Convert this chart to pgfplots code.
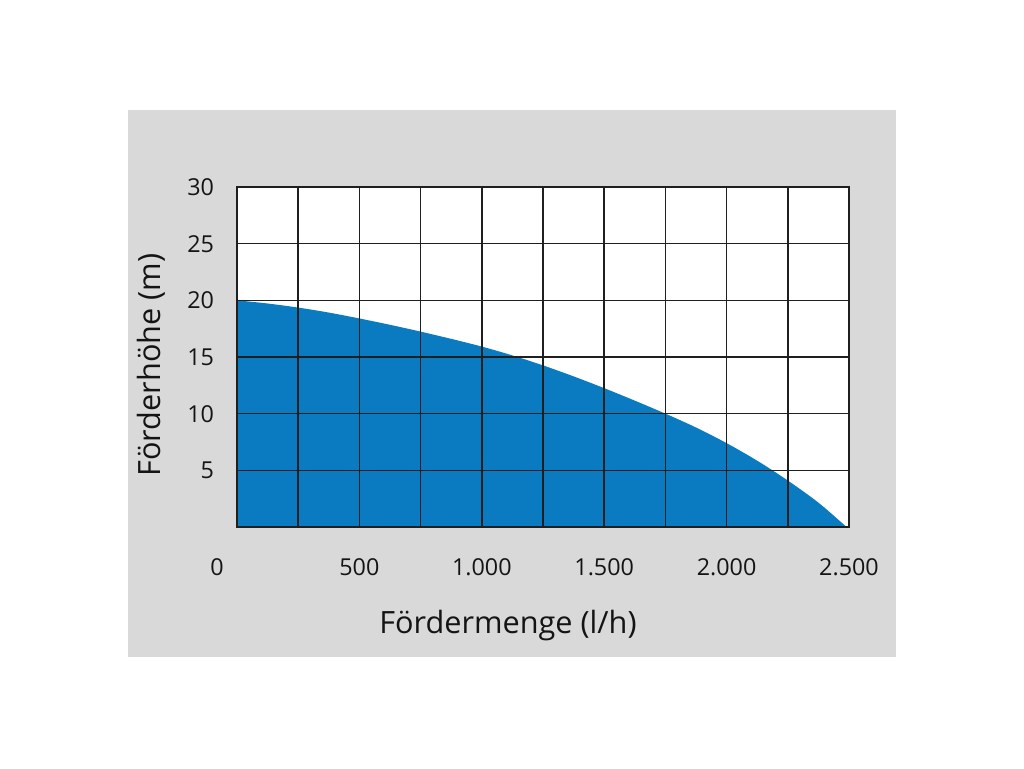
\documentclass[border=0pt]{standalone}
\usepackage{fontspec}
\setmainfont{Open Sans}
\usepackage{pgfplots}
\pgfplotsset{compat=1.18}
\definecolor{bgray}{HTML}{D9D9D9}
\definecolor{pblue}{HTML}{0B7BC1}
\begin{document}
\begin{tikzpicture}
\fill[white] (0pt,0pt) rectangle (768pt,576pt);
\fill[bgray] (96pt,83.25pt) rectangle (672pt,493.5pt);
\begin{axis}[
 at={(177.75pt,180.75pt)}, anchor=south west,
 scale only axis, width=459pt, height=255pt,
 xmin=0,xmax=2500,ymin=0,ymax=30,
 xtick={0,250,...,2500}, xticklabels={,,500,,1.000,,1.500,,2.000,,2.500},
 ytick={0,5,...,30}, yticklabels={,5,10,15,20,25,30},
 grid=major, major grid style={line width=1.15pt, color=black!88},
 axis line style={line width=1.15pt, color=black!88},
 major tick length=0pt,
 axis on top,
 axis background/.style={fill=white},
 /pgf/number format/assume math mode=true,
 tick label style={font=\fontsize{17.5}{20}\selectfont, text=black!92},
 xticklabel style={anchor=base, yshift=-36pt},
 yticklabel style={anchor=east, inner sep=0pt, xshift=-17pt},
]
\addplot[fill=pblue, draw=none, smooth] coordinates {
(0,20) (125,19.72) (250,19.36) (375,18.92) (500,18.40) (625,17.84) (750,17.24)
(875,16.60) (1000,15.92) (1125,15.14) (1250,14.26) (1375,13.29) (1500,12.25)
(1625,11.15) (1750,10.0) (1875,8.78) (2000,7.4) (2125,5.85) (2250,4.1)
(2375,2.15) (2490,0)
} \closedcycle;
\end{axis}
\node[anchor=base, inner sep=0pt, font=\fontsize{17.5}{20}\selectfont, text=black!92] at (162.75pt,144.75pt) {0};
\node[anchor=base, inner sep=0pt, font=\fontsize{23}{27}\selectfont, text=black!92] at (381pt,101.25pt) {Fördermenge (l/h)};
\node[anchor=base, inner sep=0pt, rotate=90, font=\fontsize{23}{27}\selectfont, text=black!92] at (120pt,302.25pt) {Förderhöhe (m)};
\end{tikzpicture}
\end{document}
